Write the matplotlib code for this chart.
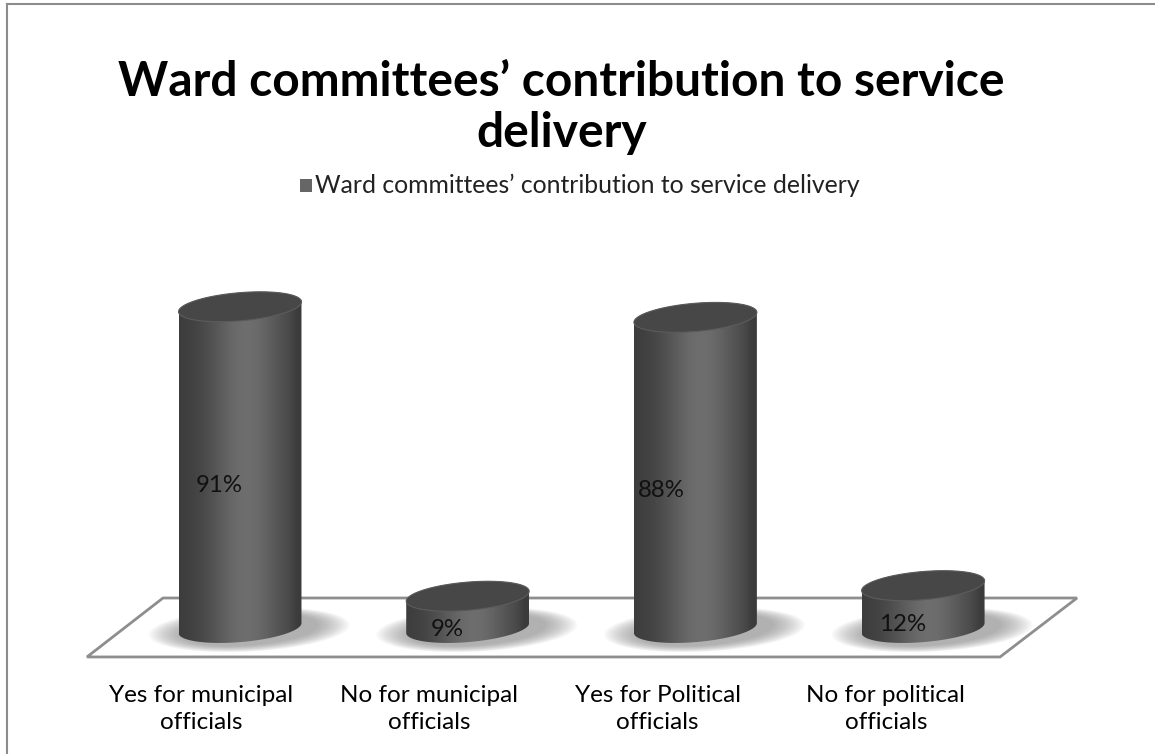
import numpy as np
import matplotlib.pyplot as plt
from matplotlib.patches import Polygon, Rectangle
from matplotlib.lines import Line2D

# chart data
categories = ["Yes for municipal\nofficials", "No for municipal\nofficials",
              "Yes for Political\nofficials", "No for political\nofficials"]
values = [91, 9, 88, 12]
series_name = "Ward committees’ contribution to service delivery"
chart_title = "Ward committees’ contribution to service\ndelivery"

# horizontal nudge of the value labels (category units)
label_dx = [-0.09, -0.09, -0.15, -0.09]

plt.rcParams["font.family"] = ["Lato", "DejaVu Sans"]

W, H = 1155, 754
fig = plt.figure(figsize=(W / 100, H / 100), dpi=100)
ax = fig.add_axes([0, 0, 1, 1])

# one category step ~ 227.7 px, one percent ~ 3.53 px
sx, sy = 227.7, 3.53
ax.set_xlim(-240 / sx, (W - 240) / sx)
ax.set_ylim(-(H - 628) / sy, 628 / sy)
ax.axis("off")

# cylinder shape: half width, ellipse half height, tilt of the ellipses
a, b, k = 0.27, 4.0, 1.4


def ellipse_pts(cx, cy, t, sa=a, sb=b, sk=k):
    return np.column_stack([cx + sa * np.cos(t), cy + sb * np.sin(t) + sk * np.cos(t)])


# floor
fl, fr = -0.672, 3.338
floor = Polygon([(fl, -8.2), (-0.338, 8.5), (3.676, 8.5), (fr, -8.2)],
                closed=True, facecolor="white", edgecolor="#8e8e8e", lw=2, zorder=1)
ax.add_patch(floor)

t_full = np.linspace(0, 2 * np.pi, 120)

# soft shadows under each cylinder
for i, v in enumerate(values):
    for s in np.linspace(1.0, 0.2, 14):
        pts = ellipse_pts(i + 0.04, -0.5, t_full, sa=a + 0.17 * s, sb=b + 2.2 * s, sk=k)
        ax.add_patch(Polygon(pts, closed=True, facecolor="#7a7a7a", edgecolor="none",
                             alpha=0.055, zorder=2))

# horizontal shading across the cylinder body
u = np.linspace(0, 1, 200)
shade = 0.23 + 0.20 * np.exp(-((u - 0.55) / 0.32) ** 2)
shade -= 0.03 * np.exp(-((u - 0.97) / 0.05) ** 2)
grad = np.repeat(shade[None, :, None], 3, axis=2)

for i, v in enumerate(values):
    lower = ellipse_pts(i, 0, np.linspace(np.pi, 2 * np.pi, 80))
    upper = ellipse_pts(i, v, np.linspace(0, np.pi, 80))
    body = Polygon(np.vstack([lower, upper]), closed=True, facecolor="none",
                   edgecolor="none", zorder=3)
    ax.add_patch(body)
    im = ax.imshow(grad, extent=[i - a, i + a, -b - k - 1, v + b + k + 1],
                   aspect="auto", interpolation="bilinear", zorder=3)
    im.set_clip_path(body)
    top = Polygon(ellipse_pts(i, v, t_full), closed=True, facecolor="#474747",
                  edgecolor="#5c5c5c", lw=0.8, zorder=4)
    ax.add_patch(top)
    ax.text(i + label_dx[i], v / 2 - 5, f"{v}%", ha="center", va="center",
            fontsize=17.3, color="#111111", zorder=5)

# category labels, centred on equal slices of the floor's front edge
slot = (fr - fl) / len(categories)
for i, lab in enumerate(categories):
    ax.text(fl + slot * (i + 0.5), -22.9, lab, ha="center", va="center",
            fontsize=17.5, color="black", linespacing=1.38)

# title and legend
fig.text(0.486, 0.857, chart_title, ha="center", va="center", fontsize=34.5,
         fontweight="bold", color="black", linespacing=1.2)
fig.text(0.273, 0.754, series_name, ha="left", va="center", fontsize=17.8, color="#222222")
fig.patches.append(Rectangle((0.26, 0.746), 0.0105, 0.017, transform=fig.transFigure,
                             facecolor="#666666", edgecolor="none"))

# chart border
fig.lines.append(Line2D([0.006, 1], [0.995, 0.995], transform=fig.transFigure,
                        color="#8c8c8c", lw=1.5))
fig.lines.append(Line2D([0.006, 0.006], [0, 0.995], transform=fig.transFigure,
                        color="#8c8c8c", lw=1.5))

fig.savefig("out.png", dpi=100)
